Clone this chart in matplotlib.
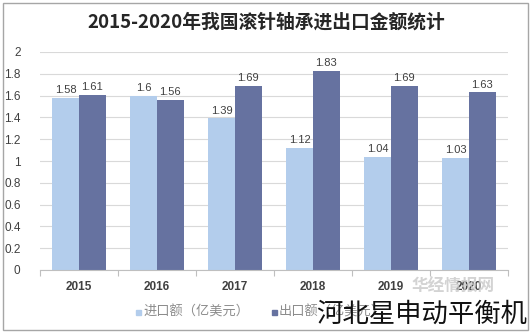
import matplotlib
matplotlib.use("Agg")
import matplotlib.pyplot as plt
import numpy as np
from matplotlib.patches import Rectangle

plt.rcParams['font.family'] = ['Liberation Sans', 'Noto Sans CJK SC', 'DejaVu Sans']

years = ["2015", "2016", "2017", "2018", "2019", "2020"]
imports = [1.58, 1.60, 1.39, 1.12, 1.04, 1.03]
exports = [1.61, 1.56, 1.69, 1.83, 1.69, 1.63]
yticks = [0, 0.2, 0.4, 0.6, 0.8, 1, 1.2, 1.4, 1.6, 1.8, 2]
title = "2015-2020年我国滚针轴承进出口金额统计"
series_names = ["进口额（亿美元）", "出口额（亿美元）"]

c_imp = "#B3CDEC"
c_exp = "#6672A0"

fig = plt.figure(figsize=(5.32, 3.35), dpi=100)
ax = fig.add_axes([40/532, 65/335, 468/532, 218/335])

x = np.arange(len(years))
w = 0.34
b1 = ax.bar(x - w/2, imports, width=w, color=c_imp, zorder=2)
b2 = ax.bar(x + w/2, exports, width=w, color=c_exp, zorder=2)

for bars, vals in ((b1, imports), (b2, exports)):
    for r, v in zip(bars, vals):
        ax.text(r.get_x() + r.get_width()/2, v + 0.025, f"{v:g}",
                ha="center", va="bottom", fontsize=8, color="#404040")

ax.set_xlim(-0.5, len(years) - 0.5)
ax.set_ylim(0, 2)
ax.set_yticks(yticks)
ax.set_yticklabels([f"{t:g}" for t in yticks], fontsize=8.5, color="#404040")
ax.yaxis.grid(True, color="#D9D9D9", linewidth=0.8, zorder=0)
ax.set_axisbelow(True)
ax.tick_params(axis="y", length=0, pad=14)

ax.set_xticks(np.arange(len(years) + 1) - 0.5, minor=False)
ax.set_xticklabels([])
ax.tick_params(axis="x", length=4, color="#BFBFBF", direction="out")
for i, yr in enumerate(years):
    ax.text(i, -0.1, yr, ha="center", va="top", fontsize=8.5,
            fontweight="bold", color="#404040", transform=ax.transData)

for s in ("top", "right", "left"):
    ax.spines[s].set_visible(False)
ax.spines["bottom"].set_color("#BFBFBF")

fig.text(0.5, 1 - 22/335, title, ha="center", va="center",
         fontsize=13.5, fontweight="bold", color="#262626",
         family=["Noto Sans CJK SC", "DejaVu Sans"])

# legend
for lx, col, name in ((136, c_imp, series_names[0]), (272, c_exp, series_names[1])):
    fig.patches.append(Rectangle((lx/532, 1 - 315/335), 5/532, 5/335,
                                 transform=fig.transFigure, color=col))
    fig.text((lx + 7)/532, 1 - 312/335, name, ha="left", va="center",
             fontsize=9.5, color="#8C8C8C",
             family=["Noto Sans CJK SC", "DejaVu Sans"])

# watermarks
fig.text(453/532, 1 - 287/335, "华经情报网", ha="center", va="center",
         fontsize=12, fontweight="bold", style="italic", color="#C8C8C8",
         alpha=0.8, family=["Noto Sans CJK SC", "DejaVu Sans"])
fig.text(527/532, 1 - 314/335, "河北星申动平衡机", ha="right", va="center",
         fontsize=19, fontweight="light", color="#111111",
         family=["Noto Sans CJK SC", "DejaVu Sans"])

# outer frame
fig.patches.append(Rectangle((3/532, 5/335), 525/532, 327/335,
                             transform=fig.transFigure, fill=False,
                             edgecolor="#A6A6A6", linewidth=1))

fig.savefig("out.png", dpi=100)
